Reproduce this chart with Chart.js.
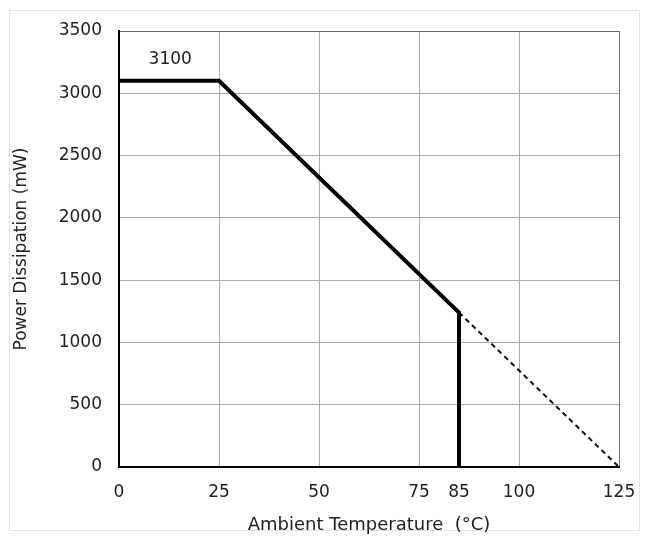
<!DOCTYPE html>
<html>
<head>
<meta charset="utf-8">
<script src="https://cdn.jsdelivr.net/npm/chart.js@4"></script>
<style>
  html, body { margin: 0; padding: 0; background: #fff; }
  #wrap { width: 645px; height: 539px; position: relative; }
</style>
</head>
<body>
<div id="wrap"><canvas id="derating"></canvas></div>
<script>
// derating curve
const tempSolid = [0, 25, 85, 85];
const powerSolid = [3100, 3100, 1240, 0];
const tempDashed = [85, 125];
const powerDashed = [1240, 0];
const xTicks = [0, 25, 50, 75, 85, 100, 125];
const yTicks = [0, 500, 1000, 1500, 2000, 2500, 3000, 3500];
const noteText = '3100';
const noteX = 12.8;
const noteY = 3270;

const FONT = '"DejaVu Sans", "Liberation Sans", Arial, sans-serif';

function toPoints(xs, ys) {
    return xs.map((x, i) => ({ x: x, y: ys[i] }));
}

const outerFrame = {
    id: 'outerFrame',
    beforeDraw(chart) {
        let ctx = chart.ctx;
        ctx.save();
        ctx.fillStyle = '#fff';
        ctx.fillRect(0, 0, chart.width, chart.height);
        ctx.strokeStyle = '#e2e2e2';
        ctx.lineWidth = 1;
        ctx.strokeRect(9.5, 10.5, 630, 520);
        ctx.restore();
    },
    afterDatasetsDraw(chart) {
        let ctx = chart.ctx;
        let x = chart.scales.x.getPixelForValue(noteX);
        let y = chart.scales.y.getPixelForValue(noteY);
        ctx.save();
        ctx.font = '17px ' + FONT;
        ctx.fillStyle = '#222';
        ctx.textAlign = 'center';
        ctx.textBaseline = 'middle';
        ctx.fillText(noteText, x, y);
        ctx.restore();
    }
};

new Chart(document.getElementById('derating'), {
    type: 'scatter',
    data: {
        datasets: [{
            data: toPoints(tempSolid, powerSolid),
            showLine: true,
            borderColor: '#000',
            borderWidth: 4,
            pointRadius: 0,
            borderJoinStyle: 'miter',
            tension: 0
        }, {
            data: toPoints(tempDashed, powerDashed),
            showLine: true,
            borderColor: '#111',
            borderWidth: 2,
            borderDash: [5, 4],
            pointRadius: 0,
            tension: 0
        }]
    },
    options: {
        responsive: true,
        maintainAspectRatio: false,
        animation: false,
        layout: { padding: { left: 0, top: 31, right: 26, bottom: 0 } },
        plugins: { legend: { display: false }, tooltip: { enabled: false } },
        scales: {
            x: {
                type: 'linear',
                min: 0,
                max: 125,
                afterBuildTicks: axis => { axis.ticks = xTicks.map(v => ({ value: v })); },
                afterFit: axis => {
                    axis.height = 72;
                    axis.paddingLeft = 0;
                    axis.paddingRight = 0;
                },
                border: { color: '#000', width: 2 },
                grid: {
                    color: c => c.tick && c.tick.value === 85 ? 'rgba(0,0,0,0)' : (c.tick && c.tick.value === 125 ? '#777' : '#aaa'),
                    lineWidth: 1,
                    drawTicks: false
                },
                ticks: {
                    padding: 15,
                    maxRotation: 0,
                    autoSkip: false,
                    color: '#222',
                    font: { family: FONT, size: 17 }
                },
                title: {
                    display: true,
                    text: 'Ambient Temperature  (°C)',
                    color: '#222',
                    padding: { top: 0, bottom: 3 },
                    font: { family: FONT, size: 18 }
                }
            },
            y: {
                min: 0,
                max: 3500,
                afterBuildTicks: axis => { axis.ticks = yTicks.map(v => ({ value: v })); },
                afterFit: axis => { axis.width = 119; },
                border: { color: '#000', width: 2 },
                grid: {
                    color: c => c.tick && c.tick.value === 3500 ? '#666' : '#aaa',
                    lineWidth: 1,
                    drawTicks: false
                },
                ticks: {
                    padding: 17,
                    color: '#222',
                    font: { family: FONT, size: 17 },
                    callback: v => String(v)
                },
                title: {
                    display: true,
                    text: 'Power Dissipation (mW)',
                    color: '#222',
                    padding: { top: 11, bottom: 0 },
                    font: { family: FONT, size: 17 }
                }
            }
        }
    },
    plugins: [outerFrame]
});
</script>
</body>
</html>
